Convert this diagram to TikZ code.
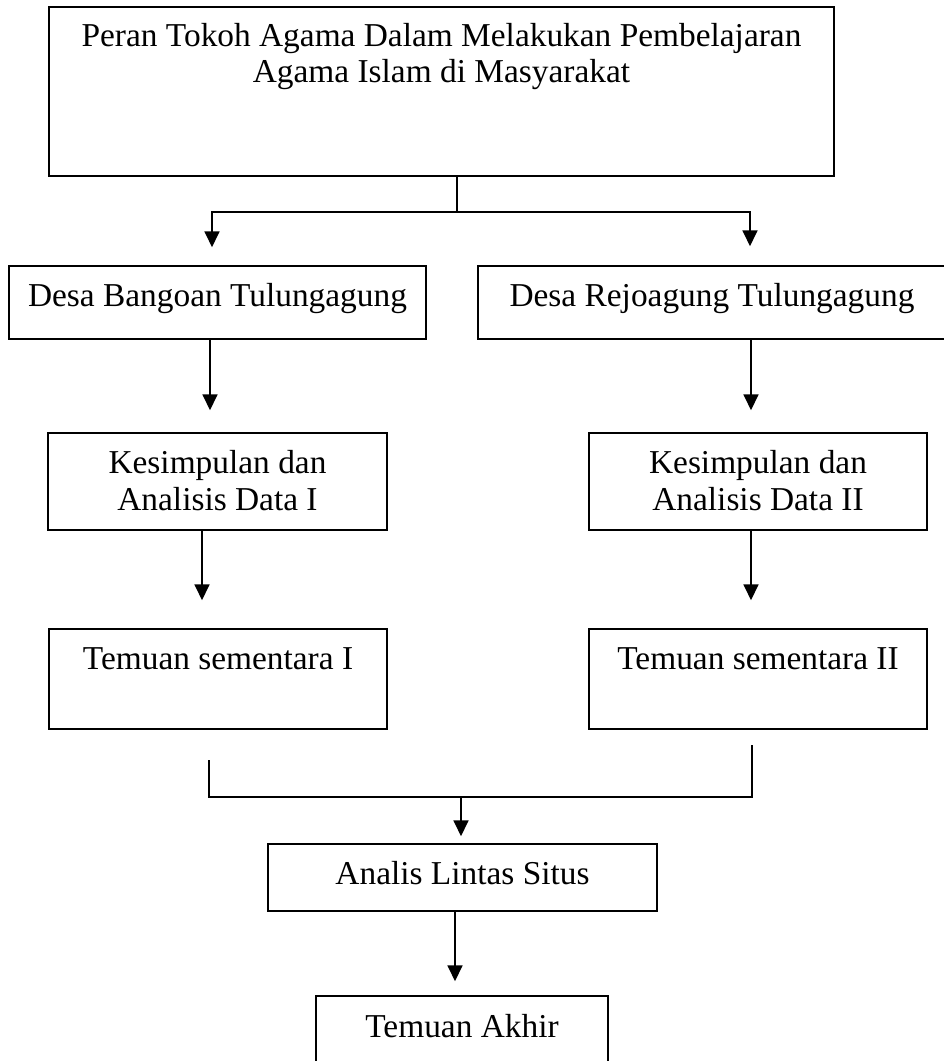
\documentclass[tikz,border=0pt]{standalone}
\usepackage{fontspec}
\setmainfont{Liberation Serif}
\usetikzlibrary{arrows.meta}

\begin{document}
\begin{tikzpicture}[x=0.02cm, y=-0.02cm, ->, >={Triangle[length=9pt,width=8.5pt]}, line width=0.9pt]

	\tikzstyle{kotak}=[draw, rectangle, inner sep=0pt, align=center, anchor=base, text height=0.8cm, font=\fontsize{19}{21}\selectfont]

	\useasboundingbox (0,0) rectangle (943,1061);

	% baris dua: anchor base ada di baris terakhir
	\node[kotak, minimum width=15.7cm, text height=1.52cm, text depth=1.86cm] (top) at (441.5,83) {Peran Tokoh Agama Dalam Melakukan Pembelajaran\\Agama Islam di Masyarakat};
	\node[kotak, minimum width=8.34cm, text depth=0.66cm] (desaA) at (217.5,306) {Desa Bangoan Tulungagung};
	\node[kotak, minimum width=9.36cm, text depth=0.66cm] (desaB) at (712,306) {Desa Rejoagung Tulungagung};
	\node[kotak, minimum width=6.78cm, text height=1.54cm, text depth=0.4cm] (kesA) at (217.5,510) {Kesimpulan dan\\Analisis Data I};
	\node[kotak, minimum width=6.76cm, text height=1.54cm, text depth=0.4cm] (kesB) at (758,510) {Kesimpulan dan\\Analisis Data II};
	\node[kotak, minimum width=6.76cm, text depth=1.2cm] (temA) at (218,669) {Temuan sementara I};
	\node[kotak, minimum width=6.76cm, text depth=1.2cm] (temB) at (758,669) {Temuan sementara II};
	\node[kotak, minimum width=7.78cm, text depth=0.54cm] (lintas) at (462.5,884) {Analis Lintas Situs};
	\node[kotak, minimum width=5.84cm, text depth=0.86cm, text height=0.82cm] (akhir) at (462,1037) {Temuan Akhir};

	\coordinate (cabang) at (457,212);
	\coordinate (gabung) at (461,797);
	\coordinate (ujungA) at (209,760);
	\coordinate (ujungB) at (752,745);

	% dari judul ke kedua desa
	\draw[-] (top.south -| cabang) -- (cabang);
	\draw (cabang) -| ([xshift=-0.11cm,yshift=0.36cm]desaA.north);
	\draw (cabang) -| ([xshift=0.76cm,yshift=0.38cm]desaB.north);

	% desa ke kesimpulan
	\draw ([xshift=-0.15cm]desaA.south) -- ([xshift=-0.15cm,yshift=0.44cm]kesA.north);
	\draw ([xshift=0.78cm]desaB.south) -- ([xshift=-0.14cm,yshift=0.44cm]kesB.north);

	% kesimpulan ke temuan sementara
	\draw ([xshift=-0.31cm]kesA.south) -- ([xshift=-0.32cm,yshift=0.56cm]temA.north);
	\draw ([xshift=-0.14cm]kesB.south) -- ([xshift=-0.14cm,yshift=0.56cm]temB.north);

	% gabungan ke analisis lintas situs
	\draw[-] (ujungA) |- (gabung) -| (ujungB);
	\draw (gabung) -- ([yshift=0.14cm]lintas.north -| gabung);
	\draw ([xshift=-0.15cm]lintas.south) -- ([xshift=-0.14cm,yshift=0.28cm]akhir.north);

\end{tikzpicture}
\end{document}
